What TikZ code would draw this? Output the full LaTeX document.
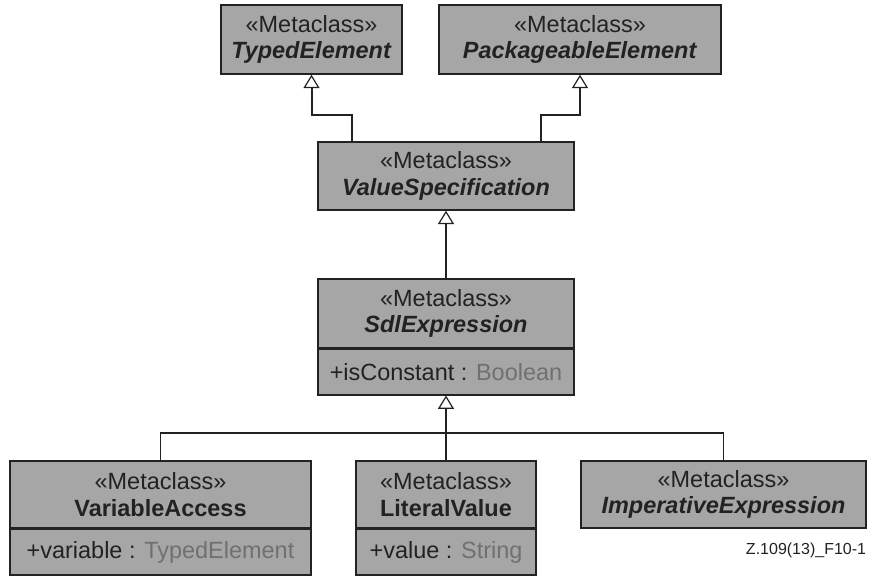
\documentclass[tikz,border=0pt]{standalone}
\usepackage{fontspec}
\setmainfont{Liberation Sans}
\usetikzlibrary{positioning,arrows.meta}
\definecolor{clsfill}{RGB}{166,166,166}
\definecolor{clsline}{RGB}{34,34,34}
\definecolor{typegray}{RGB}{112,112,112}

\tikzset{every picture/.style={line width=0.75pt}}
\tikzset{
  cls/.style={draw=clsline, fill=clsfill, line width=1.1pt, align=center, inner sep=0pt,
    text=clsline, font=\fontsize{17.6}{20}\selectfont},
  attr/.style={cls, minimum height=34pt},
  gen/.style={-{Triangle[open, width=12pt, length=10pt, line width=0.9pt]}, line width=1.5pt, draw=clsline},
  bus/.style={line width=1.1pt, draw=clsline},
}

\begin{document}
\begin{tikzpicture}[x=0.75pt,y=0.75pt,yscale=-1,xscale=1]
\useasboundingbox (0,0) rectangle (872,577);

%Shape: Class TypedElement
\node (te) at (311.5,39.5) [cls, minimum width=135.75pt, minimum height=51.75pt] {«Metaclass»\\\textbf{\textit{TypedElement}}};
%Shape: Class PackageableElement
\node (pe) at (580,39.5) [cls, minimum width=211.5pt, minimum height=51.75pt] {«Metaclass»\\\textbf{\textit{PackageableElement}}};
%Shape: Class ValueSpecification
\node (vs) at (446,176) [cls, minimum width=192pt, minimum height=51pt] {«Metaclass»\\\textbf{\textit{ValueSpecification}}};
%Shape: Class SdlExpression
\node (sdl) at (446,313.5) [cls, minimum width=192pt, minimum height=51.75pt] {«Metaclass»\\\textbf{\textit{SdlExpression}}};
\node (sdlattr) [attr, minimum width=192pt, below=0pt of sdl] {+isConstant : \textcolor{typegray}{Boolean}};
%Shape: Class VariableAccess
\node (va) at (160.5,494.5) [cls, minimum width=225.75pt, minimum height=50.25pt] {«Metaclass»\\\textbf{VariableAccess}};
\node (vaattr) [attr, minimum width=225.75pt, below=0pt of va] {+variable : \textcolor{typegray}{TypedElement}};
%Shape: Class LiteralValue
\node (lv) at (446,494.5) [cls, minimum width=135pt, minimum height=50.25pt] {«Metaclass»\\\textbf{LiteralValue}};
\node (lvattr) [attr, minimum width=135pt, below=0pt of lv] {+value : \textcolor{typegray}{String}};
%Shape: Class ImperativeExpression
\node (ie) at (723.5,494.5) [cls, minimum width=213.75pt, minimum height=50.25pt] {«Metaclass»\\\textbf{\textit{ImperativeExpression}}};

%Generalizations
\draw [gen] ([xshift=-70.5pt]vs.north) -- ++(0,-26) -| (te.south);
\draw [gen] ([xshift=71.25pt]vs.north) -- ++(0,-26) -| (pe.south);
\draw [gen] (sdl.north) -- (vs.south);
\draw [gen] (lv.north) -- (sdlattr.south);
\coordinate (split) at (446,433);
\draw [bus] (va.north) |- (split) -| (ie.north);

% Text Node
\node (fig) at (871,550) [anchor=east, text=clsline, font=\fontsize{12}{14}\selectfont] {Z.109(13)\_F10-1};

\end{tikzpicture}
\end{document}
